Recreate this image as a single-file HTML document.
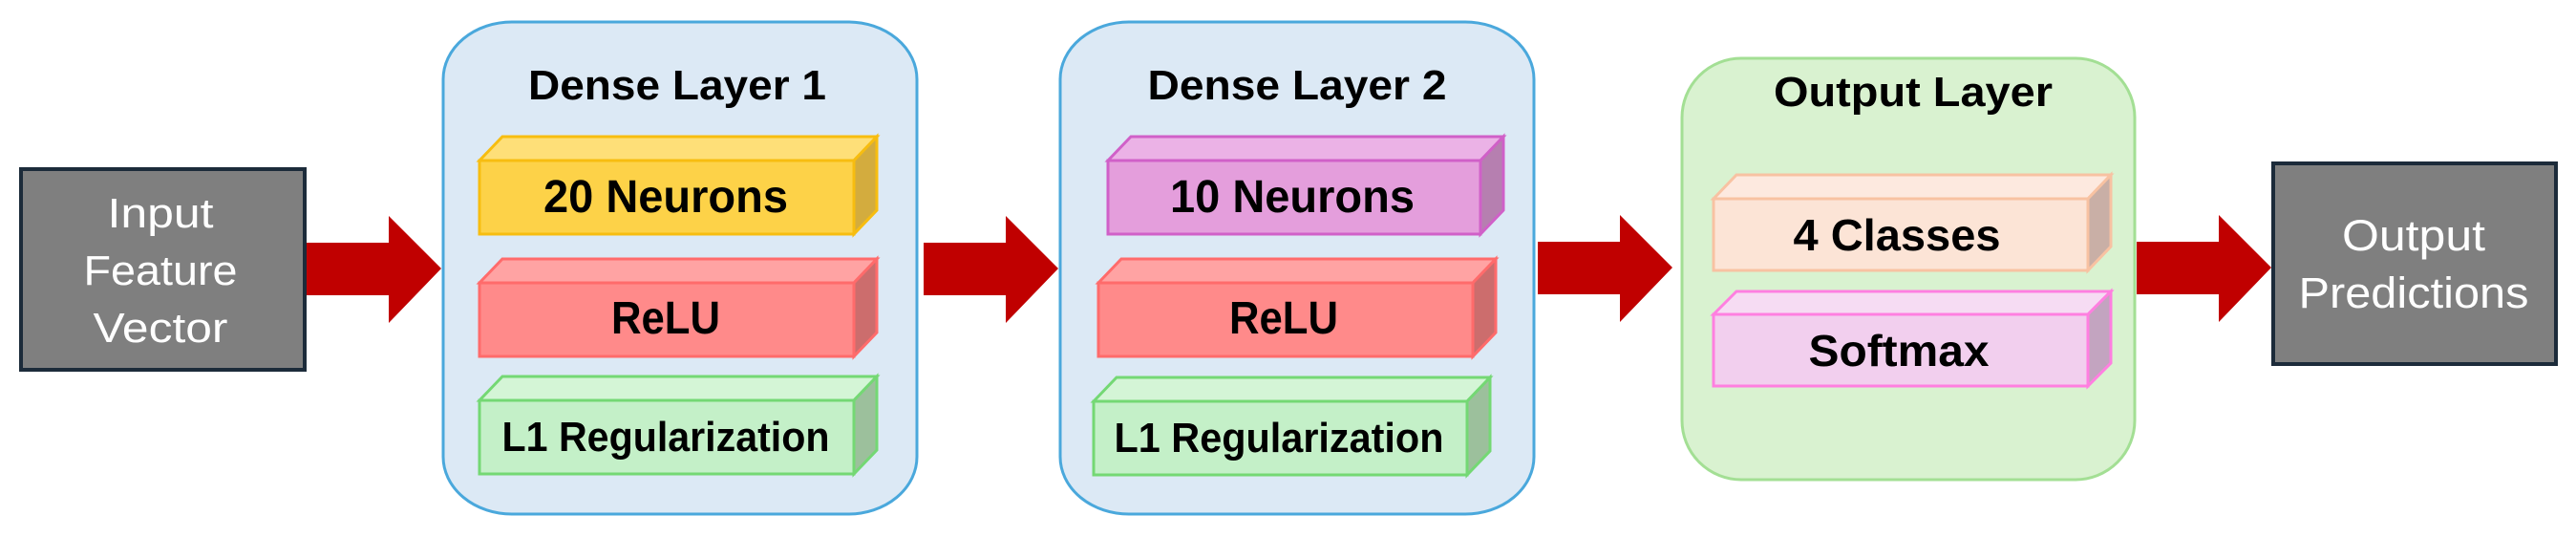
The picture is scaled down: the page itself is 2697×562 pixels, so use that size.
<!DOCTYPE html>
<html><head><meta charset="utf-8"><style>
html,body{margin:0;padding:0;background:#fff;}
svg{display:block;}
text{font-family:"Liberation Sans",sans-serif;}
.b{font-weight:bold;fill:#000;}
.w{fill:#fff;}
</style></head><body>
<svg width="2697" height="562" viewBox="0 0 2697 562" xmlns="http://www.w3.org/2000/svg">
<defs>
<g id="arrow"><polygon points="0,28 86,28 86,0 141,55 86,112 86,83 0,83" fill="#c00000"/></g>
</defs>
<!-- Input box -->
<rect x="22" y="177" width="297" height="210" fill="#7f7f7f" stroke="#1c2b3a" stroke-width="4"/>
<text class="w" x="168" y="238" font-size="44" text-anchor="middle" textLength="111" lengthAdjust="spacingAndGlyphs">Input</text>
<text class="w" x="168" y="298" font-size="44" text-anchor="middle" textLength="161" lengthAdjust="spacingAndGlyphs">Feature</text>
<text class="w" x="168" y="358" font-size="44" text-anchor="middle" textLength="141" lengthAdjust="spacingAndGlyphs">Vector</text>

<use href="#arrow" x="321" y="226"/>
<use href="#arrow" x="967" y="226"/>
<use href="#arrow" x="1610" y="225"/>
<use href="#arrow" x="2237" y="225"/>

<!-- Dense 1 -->
<rect x="464" y="23" width="496" height="515" rx="72" ry="60" fill="#dce9f5" stroke="#4aa8dc" stroke-width="3"/>
<text class="b" x="709" y="104" font-size="44" text-anchor="middle" textLength="312" lengthAdjust="spacingAndGlyphs">Dense Layer 1</text>
<!-- cube helper: front x1..x2, top y, depth 24 -->
<g stroke-width="3">
 <polygon points="502,168 526,143 918,143 894,168" fill="#fedf78" stroke="#f7bd10"/>
 <polygon points="894,168 918,143 918,220 894,245" fill="#d3ac3e" stroke="#f7bd10"/>
 <rect x="502" y="168" width="392" height="77" fill="#fdd248" stroke="#f7bd10"/>
 <polygon points="502,296 526,271 918,271 894,296" fill="#ffa3a3" stroke="#ff6b6b"/>
 <polygon points="894,296 918,271 918,348 894,373" fill="#cc6d6d" stroke="#ff6b6b"/>
 <rect x="502" y="296" width="392" height="77" fill="#ff8a8a" stroke="#ff6b6b"/>
 <polygon points="502,419 526,394 918,394 894,419" fill="#d4f5d6" stroke="#74d874"/>
 <polygon points="894,419 918,394 918,471 894,496" fill="#9cc09c" stroke="#74d874"/>
 <rect x="502" y="419" width="392" height="77" fill="#c4f0c8" stroke="#74d874"/>
</g>
<text class="b" x="697" y="222" font-size="48" text-anchor="middle" textLength="256" lengthAdjust="spacingAndGlyphs">20 Neurons</text>
<text class="b" x="697" y="349" font-size="48" text-anchor="middle" textLength="114" lengthAdjust="spacingAndGlyphs">ReLU</text>
<text class="b" x="697" y="472" font-size="44" text-anchor="middle" textLength="343" lengthAdjust="spacingAndGlyphs">L1 Regularization</text>

<!-- Dense 2 -->
<rect x="1110" y="23" width="496" height="515" rx="72" ry="60" fill="#dce9f5" stroke="#4aa8dc" stroke-width="3"/>
<text class="b" x="1358" y="104" font-size="44" text-anchor="middle" textLength="313" lengthAdjust="spacingAndGlyphs">Dense Layer 2</text>
<g stroke-width="3">
 <polygon points="1160,168 1184,143 1574,143 1550,168" fill="#ebb2e6" stroke="#d060c8"/>
 <polygon points="1550,168 1574,143 1574,220 1550,245" fill="#b67fb0" stroke="#d060c8"/>
 <rect x="1160" y="168" width="390" height="77" fill="#e49edc" stroke="#d060c8"/>
 <polygon points="1150,296 1174,271 1566,271 1542,296" fill="#ffa3a3" stroke="#ff6b6b"/>
 <polygon points="1542,296 1566,271 1566,348 1542,373" fill="#cc6d6d" stroke="#ff6b6b"/>
 <rect x="1150" y="296" width="392" height="77" fill="#ff8a8a" stroke="#ff6b6b"/>
 <polygon points="1145,420 1169,395 1560,395 1536,420" fill="#d4f5d6" stroke="#74d874"/>
 <polygon points="1536,420 1560,395 1560,472 1536,497" fill="#9cc09c" stroke="#74d874"/>
 <rect x="1145" y="420" width="391" height="77" fill="#c4f0c8" stroke="#74d874"/>
</g>
<text class="b" x="1353" y="222" font-size="48" text-anchor="middle" textLength="256" lengthAdjust="spacingAndGlyphs">10 Neurons</text>
<text class="b" x="1344" y="349" font-size="48" text-anchor="middle" textLength="114" lengthAdjust="spacingAndGlyphs">ReLU</text>
<text class="b" x="1339" y="473" font-size="44" text-anchor="middle" textLength="345" lengthAdjust="spacingAndGlyphs">L1 Regularization</text>

<!-- Output layer -->
<rect x="1761" y="61" width="474" height="441" rx="62" ry="62" fill="#d9f2d0" stroke="#a3df94" stroke-width="3"/>
<text class="b" x="2003" y="111" font-size="44" text-anchor="middle" textLength="292" lengthAdjust="spacingAndGlyphs">Output Layer</text>
<g stroke-width="3">
 <polygon points="1794,208 1818,183 2210,183 2186,208" fill="#fde9df" stroke="#f8c2a2"/>
 <polygon points="2186,208 2210,183 2210,258 2186,283" fill="#c9afa6" stroke="#f8c2a2"/>
 <rect x="1794" y="208" width="392" height="75" fill="#fce4d6" stroke="#f8c2a2"/>
 <polygon points="1794,329 1818,305 2210,305 2186,329" fill="#f6dcf3" stroke="#ff7fe0"/>
 <polygon points="2186,329 2210,305 2210,380 2186,404" fill="#c3a4c0" stroke="#ff7fe0"/>
 <rect x="1794" y="329" width="392" height="75" fill="#f2cfee" stroke="#ff7fe0"/>
</g>
<text class="b" x="1986" y="262" font-size="46" text-anchor="middle" textLength="217" lengthAdjust="spacingAndGlyphs">4 Classes</text>
<text class="b" x="1988" y="383" font-size="46" text-anchor="middle" textLength="189" lengthAdjust="spacingAndGlyphs">Softmax</text>

<!-- Output box -->
<rect x="2380" y="171" width="296" height="210" fill="#7f7f7f" stroke="#1c2b3a" stroke-width="4"/>
<text class="w" x="2527" y="262" font-size="45" text-anchor="middle" textLength="150" lengthAdjust="spacingAndGlyphs">Output</text>
<text class="w" x="2527" y="322" font-size="45" text-anchor="middle" textLength="241" lengthAdjust="spacingAndGlyphs">Predictions</text>
</svg>
</body></html>
